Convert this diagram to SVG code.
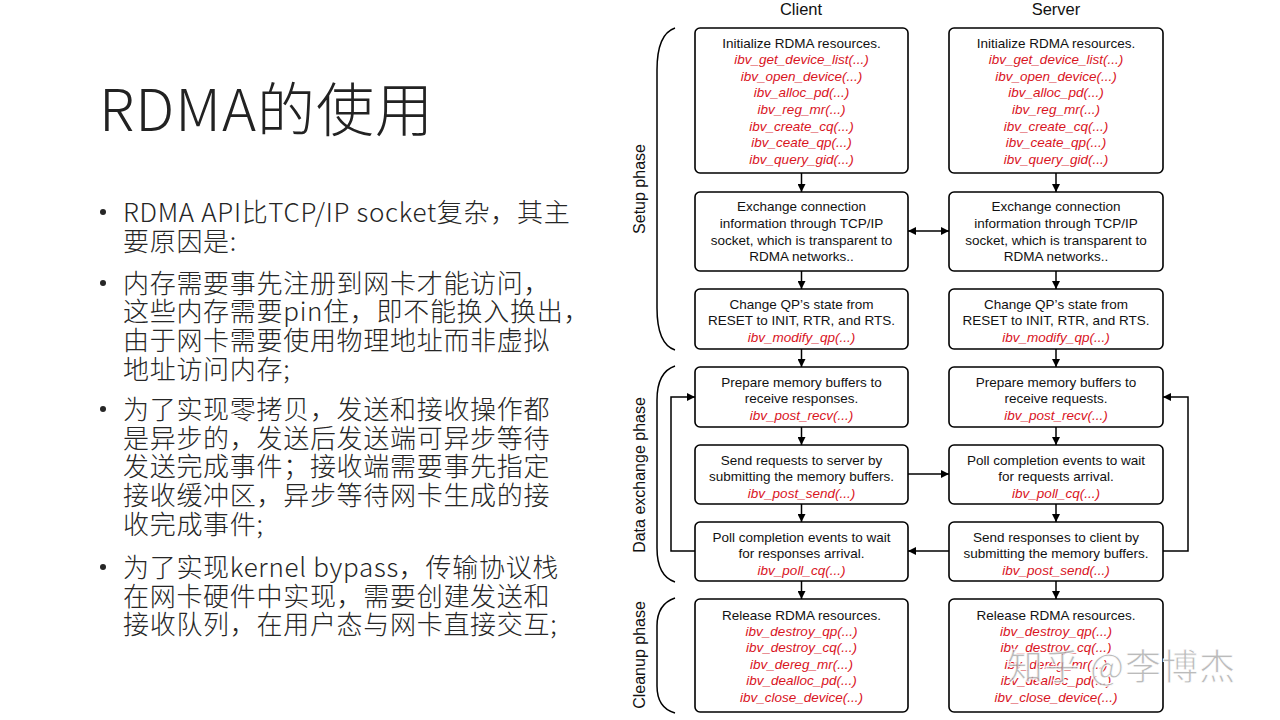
<svg xmlns="http://www.w3.org/2000/svg" width="1280" height="720" viewBox="0 0 1280 720">
<defs>
<marker id="arr" viewBox="0 0 10 10" refX="10" refY="5" markerWidth="8" markerHeight="8" markerUnits="userSpaceOnUse" orient="auto-start-reverse">
<path d="M0,0 L10,5 L0,10 z" fill="#000"/>
</marker>
<style>
.title{font-family:"Noto Sans CJK SC","Noto Sans",sans-serif;font-weight:300;font-size:58px;letter-spacing:1px;fill:#222}
.bt{font-family:"Noto Sans CJK SC","Noto Sans",sans-serif;font-weight:300;font-size:26px;letter-spacing:0.7px;fill:#262626}
.box{fill:#fff;stroke:#000;stroke-width:1.6}
.t{font-family:"Liberation Sans",Arial,sans-serif;font-size:13.5px;fill:#111;text-anchor:middle}
.r{font-family:"Liberation Sans",Arial,sans-serif;font-size:13.5px;font-style:italic;fill:#d9141e;text-anchor:middle}
.hd{font-family:"Liberation Sans",Arial,sans-serif;font-size:16.5px;fill:#111;text-anchor:middle}
.ph{font-family:"Liberation Sans",Arial,sans-serif;font-size:16px;fill:#111;text-anchor:middle}
.c{fill:none;stroke:#000;stroke-width:1.5}
.br{fill:none;stroke:#000;stroke-width:1.5}
.wm{font-family:"Noto Sans CJK SC","Noto Sans",sans-serif;font-size:36px;letter-spacing:1px;fill:#a8a8a8;fill-opacity:0.8;stroke:#fff;stroke-width:0.8}
</style>
</defs>
<rect width="1280" height="720" fill="#fff"/>

<g id="title"><text class="title" x="99" y="131">RDMA的使用</text></g>

<g id="bullets">
<circle cx="103" cy="212" r="3" fill="#262626"/>
<circle cx="103" cy="283" r="3" fill="#262626"/>
<circle cx="103" cy="409" r="3" fill="#262626"/>
<circle cx="103" cy="567" r="3" fill="#262626"/>
<text class="bt" x="123" y="222">RDMA API比TCP/IP socket复杂，其主</text>
<text class="bt" x="123" y="251">要原因是:</text>
<text class="bt" x="123" y="293">内存需要事先注册到网卡才能访问，</text>
<text class="bt" x="123" y="321">这些内存需要pin住，即不能换入换出，</text>
<text class="bt" x="123" y="350">由于网卡需要使用物理地址而非虚拟</text>
<text class="bt" x="123" y="379">地址访问内存;</text>
<text class="bt" x="123" y="419">为了实现零拷贝，发送和接收操作都</text>
<text class="bt" x="123" y="448">是异步的，发送后发送端可异步等待</text>
<text class="bt" x="123" y="476">发送完成事件；接收端需要事先指定</text>
<text class="bt" x="123" y="505">接收缓冲区，异步等待网卡生成的接</text>
<text class="bt" x="123" y="534">收完成事件;</text>
<text class="bt" x="123" y="577">为了实现kernel bypass，传输协议栈</text>
<text class="bt" x="123" y="606">在网卡硬件中实现，需要创建发送和</text>
<text class="bt" x="123" y="634">接收队列，在用户态与网卡直接交互;</text>
</g>

<g id="headers">
<text class="hd" x="801" y="15">Client</text>
<text class="hd" x="1056" y="15">Server</text>
</g>

<g id="phases">
<path class="br" d="M675,28 Q657,34 657,70 L657,308 Q657,344 675,350"/>
<path class="br" d="M675,366 Q657,372 657,400 L657,548 Q657,576 675,582"/>
<path class="br" d="M675,598 Q657,604 657,626 L657,686 Q657,708 675,713"/>
<text class="ph" transform="translate(645,189) rotate(-90)">Setup phase</text>
<text class="ph" transform="translate(645,475) rotate(-90)">Data exchange phase</text>
<text class="ph" transform="translate(645,655) rotate(-90)">Cleanup phase</text>
</g>

<g id="c-init">
<rect class="box" x="695" y="28" width="213" height="145" rx="5"/>
<text class="t" x="801.5" y="48">Initialize RDMA resources.</text>
<text class="r" x="801.5" y="64">ibv_get_device_list(...)</text>
<text class="r" x="801.5" y="81">ibv_open_device(...)</text>
<text class="r" x="801.5" y="97">ibv_alloc_pd(...)</text>
<text class="r" x="801.5" y="114">ibv_reg_mr(...)</text>
<text class="r" x="801.5" y="131">ibv_create_cq(...)</text>
<text class="r" x="801.5" y="147">ibv_ceate_qp(...)</text>
<text class="r" x="801.5" y="164">ibv_query_gid(...)</text>
</g>
<g id="s-init">
<rect class="box" x="949" y="28" width="214" height="145" rx="5"/>
<text class="t" x="1056" y="48">Initialize RDMA resources.</text>
<text class="r" x="1056" y="64">ibv_get_device_list(...)</text>
<text class="r" x="1056" y="81">ibv_open_device(...)</text>
<text class="r" x="1056" y="97">ibv_alloc_pd(...)</text>
<text class="r" x="1056" y="114">ibv_reg_mr(...)</text>
<text class="r" x="1056" y="131">ibv_create_cq(...)</text>
<text class="r" x="1056" y="147">ibv_ceate_qp(...)</text>
<text class="r" x="1056" y="164">ibv_query_gid(...)</text>
</g>

<g id="c-exch">
<rect class="box" x="695" y="192" width="213" height="79" rx="5"/>
<text class="t" x="801.5" y="211">Exchange connection</text>
<text class="t" x="801.5" y="228">information through TCP/IP</text>
<text class="t" x="801.5" y="245">socket, which is transparent to</text>
<text class="t" x="801.5" y="261">RDMA networks..</text>
</g>
<g id="s-exch">
<rect class="box" x="949" y="192" width="214" height="79" rx="5"/>
<text class="t" x="1056" y="211">Exchange connection</text>
<text class="t" x="1056" y="228">information through TCP/IP</text>
<text class="t" x="1056" y="245">socket, which is transparent to</text>
<text class="t" x="1056" y="261">RDMA networks..</text>
</g>

<g id="c-qp">
<rect class="box" x="695" y="289" width="213" height="60" rx="5"/>
<text class="t" x="801.5" y="309">Change QP’s state from</text>
<text class="t" x="801.5" y="325">RESET to INIT, RTR, and RTS.</text>
<text class="r" x="801.5" y="342">ibv_modify_qp(...)</text>
</g>
<g id="s-qp">
<rect class="box" x="949" y="289" width="214" height="60" rx="5"/>
<text class="t" x="1056" y="309">Change QP’s state from</text>
<text class="t" x="1056" y="325">RESET to INIT, RTR, and RTS.</text>
<text class="r" x="1056" y="342">ibv_modify_qp(...)</text>
</g>

<g id="c-recv">
<rect class="box" x="695" y="367" width="213" height="60" rx="5"/>
<text class="t" x="801.5" y="387">Prepare memory buffers to</text>
<text class="t" x="801.5" y="403">receive responses.</text>
<text class="r" x="801.5" y="420">ibv_post_recv(...)</text>
</g>
<g id="s-recv">
<rect class="box" x="949" y="367" width="214" height="60" rx="5"/>
<text class="t" x="1056" y="387">Prepare memory buffers to</text>
<text class="t" x="1056" y="403">receive requests.</text>
<text class="r" x="1056" y="420">ibv_post_recv(...)</text>
</g>

<g id="c-send">
<rect class="box" x="695" y="445" width="213" height="59" rx="5"/>
<text class="t" x="801.5" y="465">Send requests to server by</text>
<text class="t" x="801.5" y="481">submitting the memory buffers.</text>
<text class="r" x="801.5" y="498">ibv_post_send(...)</text>
</g>
<g id="s-poll">
<rect class="box" x="949" y="445" width="214" height="59" rx="5"/>
<text class="t" x="1056" y="465">Poll completion events to wait</text>
<text class="t" x="1056" y="481">for requests arrival.</text>
<text class="r" x="1056" y="498">ibv_poll_cq(...)</text>
</g>

<g id="c-poll">
<rect class="box" x="695" y="522" width="213" height="59" rx="5"/>
<text class="t" x="801.5" y="542">Poll completion events to wait</text>
<text class="t" x="801.5" y="558">for responses arrival.</text>
<text class="r" x="801.5" y="575">ibv_poll_cq(...)</text>
</g>
<g id="s-send">
<rect class="box" x="949" y="522" width="214" height="59" rx="5"/>
<text class="t" x="1056" y="542">Send responses to client by</text>
<text class="t" x="1056" y="558">submitting the memory buffers.</text>
<text class="r" x="1056" y="575">ibv_post_send(...)</text>
</g>

<g id="c-release">
<rect class="box" x="695" y="599" width="213" height="113" rx="5"/>
<text class="t" x="801.5" y="620">Release RDMA resources.</text>
<text class="r" x="801.5" y="636">ibv_destroy_qp(...)</text>
<text class="r" x="801.5" y="652">ibv_destroy_cq(...)</text>
<text class="r" x="801.5" y="669">ibv_dereg_mr(...)</text>
<text class="r" x="801.5" y="685">ibv_dealloc_pd(...)</text>
<text class="r" x="801.5" y="702">ibv_close_device(...)</text>
</g>
<g id="s-release">
<rect class="box" x="949" y="599" width="214" height="113" rx="5"/>
<text class="t" x="1056" y="620">Release RDMA resources.</text>
<text class="r" x="1056" y="636">ibv_destroy_qp(...)</text>
<text class="r" x="1056" y="652">ibv_destroy_cq(...)</text>
<text class="r" x="1056" y="669">ibv_dereg_mr(...)</text>
<text class="r" x="1056" y="685">ibv_dealloc_pd(...)</text>
<text class="r" x="1056" y="702">ibv_close_device(...)</text>
</g>

<g id="connectors">
<path class="c" marker-end="url(#arr)" d="M801.5,173 V192"/>
<path class="c" marker-end="url(#arr)" d="M801.5,271 V289"/>
<path class="c" marker-end="url(#arr)" d="M801.5,349 V367"/>
<path class="c" marker-end="url(#arr)" d="M801.5,427 V445"/>
<path class="c" marker-end="url(#arr)" d="M801.5,504 V522"/>
<path class="c" marker-end="url(#arr)" d="M801.5,581 V599"/>
<path class="c" marker-end="url(#arr)" d="M1056,173 V192"/>
<path class="c" marker-end="url(#arr)" d="M1056,271 V289"/>
<path class="c" marker-end="url(#arr)" d="M1056,349 V367"/>
<path class="c" marker-end="url(#arr)" d="M1056,427 V445"/>
<path class="c" marker-end="url(#arr)" d="M1056,504 V522"/>
<path class="c" marker-end="url(#arr)" d="M1056,581 V599"/>
<path class="c" marker-start="url(#arr)" marker-end="url(#arr)" d="M908,231 H949"/>
<path class="c" marker-end="url(#arr)" d="M908,474 H949"/>
<path class="c" marker-end="url(#arr)" d="M949,551 H908"/>
<path class="c" marker-end="url(#arr)" d="M695,551 H671 V397 H695"/>
<path class="c" marker-end="url(#arr)" d="M1163,551 H1188 V397 H1163"/>
</g>

<g id="watermark"><text class="wm" x="1007" y="680">知乎 @李博杰</text></g>
</svg>
